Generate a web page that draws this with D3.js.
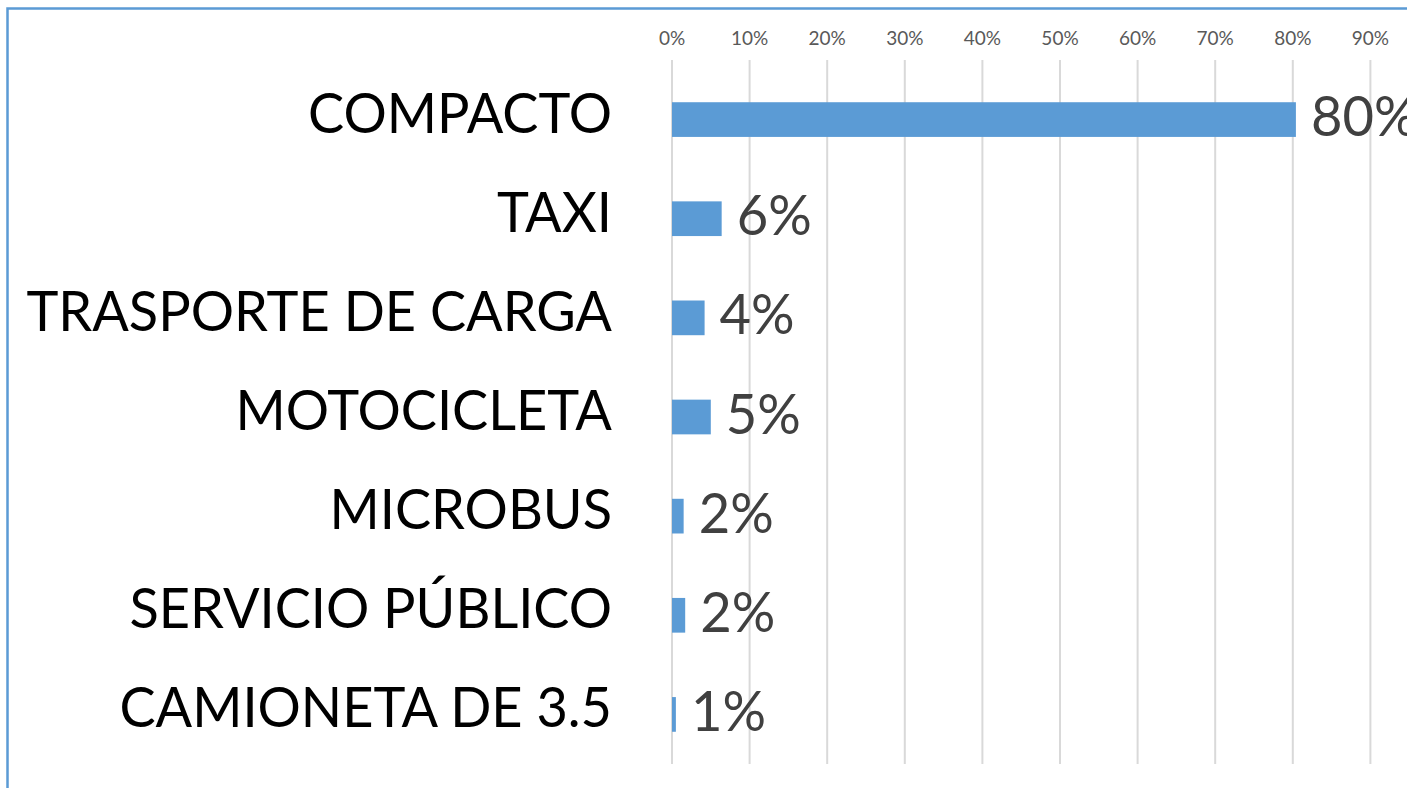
<!DOCTYPE html>
<html><head><meta charset="utf-8">
<script src="https://cdn.jsdelivr.net/npm/d3@7"></script>
<style>html,body{margin:0;padding:0;background:#fff;overflow:hidden}</style>
</head><body>
<script>
const categories = ["COMPACTO","TAXI","TRASPORTE DE CARGA","MOTOCICLETA","MICROBUS","SERVICIO PÚBLICO","CAMIONETA DE 3.5"];
const values = [80.4, 6.4, 4.2, 5.0, 1.5, 1.7, 0.5];
const valueLabels = ["80%","6%","4%","5%","2%","2%","1%"];
const ticks = [0,10,20,30,40,50,60,70,80,90];

const W = 1407, H = 788;
const FONT = "Lato, 'Open Sans', sans-serif";
const svg = d3.select("body").append("svg").attr("width", W).attr("height", H);

const x = d3.scaleLinear().domain([0, 10]).range([672, 749.6]);
const y = d3.scaleBand().domain(categories).range([70, 764]).paddingInner(0.65).paddingOuter(0.325);

// border
svg.append("path").attr("d", `M7.5,${H} L7.5,8.5 L${W},8.5`).attr("fill","none").attr("stroke","#5b9bd5").attr("stroke-width",2.5);

// gridlines
svg.append("g").selectAll("line").data(ticks).join("line")
  .attr("x1", d => x(d)).attr("x2", d => x(d)).attr("y1", 60).attr("y2", 764)
  .attr("stroke", "#d9d9d9").attr("stroke-width", 2);

// tick labels
svg.append("g").selectAll("text").data(ticks).join("text")
  .attr("x", d => x(d)).attr("y", 45).attr("text-anchor","middle")
  .attr("font-family",FONT).attr("font-size",19).attr("fill","#595959")
  .text(d => d + "%");

// bars
svg.append("g").selectAll("rect").data(categories).join("rect")
  .attr("x", x(0)).attr("y", c => y(c)).attr("height", y.bandwidth())
  .attr("width", (c,i) => x(values[i]) - x(0)).attr("fill", "#5b9bd5");

// category labels
svg.append("g").selectAll("text").data(categories).join("text")
  .attr("text-anchor","end")
  .attr("transform", c => `translate(612,${y(c) + y.bandwidth()/2 + 13}) scale(0.975,1)`)
  .attr("font-family",FONT).attr("font-size",55.5).attr("fill","#000")
  .text(c => c);

// value labels
svg.append("g").selectAll("text").data(categories).join("text")
  .attr("transform", (c,i) => `translate(${x(values[i]) + 15},${y(c) + y.bandwidth()/2 + 16.5}) scale(0.97,1)`)
  .attr("font-family",FONT).attr("font-size",56).attr("fill","#404040")
  .text((c,i) => valueLabels[i]);
</script>
</body></html>
